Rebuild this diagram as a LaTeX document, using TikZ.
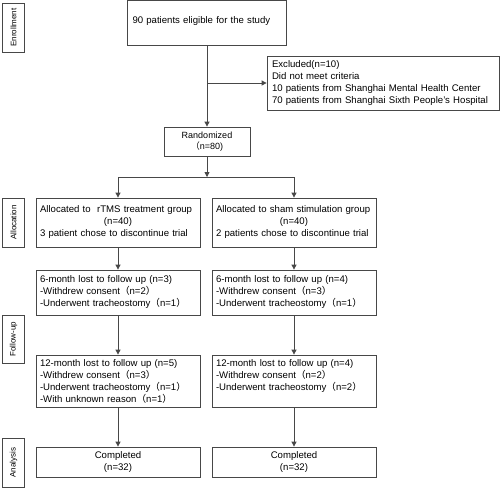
\documentclass[tikz,border=0pt]{standalone}
\usepackage{fontspec}
\setmainfont{Liberation Sans}
\newfontfamily\cjk{Noto Sans CJK SC}
\usetikzlibrary{arrows.meta}
\colorlet{linegray}{black!72}
\hyphenpenalty=10000
\newcommand{\lpar}{{\cjk （}}
\newcommand{\rpar}{{\cjk ）}}
\newcommand{\phasenode}[4]{%
  \node[phase,minimum width=#3] (#1) at (#2) {#4};
}

\begin{document}
\begin{tikzpicture}[x=1pt,y=-1pt,
  box/.style={draw=linegray,line width=0.8pt,inner xsep=5pt,inner ysep=2pt,
    font=\fontsize{9.6}{12}\selectfont,align=left},
  colbox/.style={box,inner xsep=4pt,text width=156pt,minimum height=#1},
  phase/.style={draw=linegray,line width=0.8pt,rotate=90,minimum height=22pt,
    inner sep=1pt,font=\fontsize{8}{9}\selectfont},
  flow/.style={draw=linegray,line width=0.8pt,-{Triangle[length=5pt,width=5pt]}}]
  \useasboundingbox (0,0) rectangle (500,488);

  \phasenode{enroll}{13.5,27.5}{49pt}{Enrollment}
  \phasenode{alloc}{13.5,222.5}{49pt}{Allocation}
  \phasenode{follow}{13.5,339}{48pt}{Follow-up}
  \phasenode{analysis}{13.5,462.5}{49pt}{Analysis}

  \node[box,text width=149pt,minimum height=44.5pt,text depth=6pt]
    (elig) at (207,22.75) {90 patients eligible for the study};
  \node[box,text width=222pt,minimum height=54pt] (excl) at (383,83)
    {Excluded(n=10)\\Did not meet criteria\\10 patients from Shanghai Mental Health Center\\70 patients from Shanghai Sixth People’s Hospital};
  \node[box,align=center,minimum width=86pt,minimum height=29pt,
    font=\fontsize{9}{11}\selectfont] (rand) at (207,141.5) {Randomized\\\lpar n=80)};

  \node[colbox=49pt] (allocL) at (118,222.5)
    {Allocated to\ \ rTMS treatment group\\\makebox[\linewidth]{(n=40)}\\3 patient chose to discontinue trial};
  \node[colbox=49pt] (allocR) at (294,222.5)
    {Allocated to sham stimulation group\\\makebox[\linewidth]{(n=40)}\\2 patients chose to discontinue trial};

  \node[colbox=45pt] (sixL) at (118,292.5)
    {6-month lost to follow up (n=3)\\-Withdrew consent\lpar n=2\rpar\\-Underwent tracheostomy\lpar n=1\rpar};
  \node[colbox=45pt] (sixR) at (294,292.5)
    {6-month lost to follow up (n=4)\\-Withdrew consent\lpar n=3\rpar\\-Underwent tracheostomy\lpar n=1\rpar};

  \node[colbox=52pt] (twelveL) at (118,381)
    {12-month lost to follow up (n=5)\\-Withdrew consent\lpar n=3\rpar\\-Underwent tracheostomy\lpar n=1\rpar\\-With unknown reason\lpar n=1\rpar};
  \node[colbox=52pt] (twelveR) at (294,381)
    {12-month lost to follow up (n=4)\\-Withdrew consent\lpar n=2\rpar\\-Underwent tracheostomy\lpar n=2\rpar\\\mbox{}};

  \node[colbox=30pt,align=center] (doneL) at (118,462) {Completed\\(n=32)};
  \node[colbox=30pt,align=center] (doneR) at (294,462) {Completed\\(n=32)};

  \coordinate (fork) at (207,83);
  \coordinate (split) at (207,177);

  \draw[flow] (elig) -- (rand);
  \draw[flow] (fork) -- (excl);
  \draw[flow] (rand) -- (split);
  \draw[flow] (split) -| (allocL);
  \draw[flow] (split) -| (allocR);
  \draw[flow] (allocL) -- (sixL);
  \draw[flow] (allocR) -- (sixR);
  \draw[flow] (sixL) -- (twelveL);
  \draw[flow] (sixR) -- (twelveR);
  \draw[flow] (twelveL) -- (doneL);
  \draw[flow] (twelveR) -- (doneR);
\end{tikzpicture}
\end{document}
